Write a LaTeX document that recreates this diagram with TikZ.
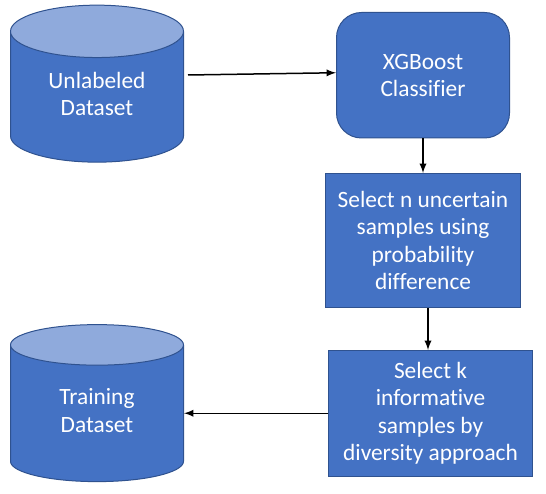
\documentclass[tikz,border=0pt]{standalone}
\usepackage{fontspec}
\setmainfont[Ligatures=NoCommon]{Carlito}
\usetikzlibrary{shapes.geometric}
\definecolor{boxfill}{HTML}{4472C4}
\definecolor{boxtop}{HTML}{8FAADC}
\definecolor{boxline}{HTML}{2F528F}
\tikzset{
  datastore/.style={draw=boxline, line width=0.02cm, cylinder, shape border rotate=90, aspect=0.54,
    cylinder uses custom fill, cylinder body fill=boxfill, cylinder end fill=boxtop,
    minimum width=3.46cm, minimum height=3.14cm, inner sep=0pt, text depth=0.12cm,
    text=white, align=center, font=\fontsize{13.3}{15.6}\selectfont},
  stepbox/.style={draw=boxline, line width=0.02cm, fill=boxfill, inner sep=0pt,
    text=white, align=center, font=\fontsize{13.3}{15.6}\selectfont},
  flowline/.style={-latex, line width=0.03cm, black}
}
\begin{document}
\begin{tikzpicture}
	\useasboundingbox (0,0) rectangle (10.92,-9.88);
	\node[datastore] (unlabeled) at (1.94,-1.94) {Unlabeled\\Dataset}; % Top cylinder
	\node[datastore] (training) at (1.94,-8.27) {Training\\Dataset}; % Bottom cylinder
	\node[stepbox, rounded corners=0.5cm, minimum width=3.46cm, minimum height=2.51cm] (xgboost) at (8.46,-1.505) {XGBoost\\Classifier}; % Classifier
	\node[stepbox, minimum width=3.9cm, minimum height=2.68cm] (uncertain) at (8.46,-4.81) {Select n uncertain\\samples using\\probability\\difference}; % First selection
	\node[stepbox, minimum width=4.08cm, minimum height=2.51cm] (informative) at (8.61,-8.265) {Select k\\informative\\samples by\\diversity approach}; % Second selection
	\coordinate (unlabeledout) at (3.76,-1.5); % Start of first arrow
	\coordinate (selectdown) at (8.56,-7); % Column of third arrow
	\draw[flowline] (unlabeledout) -- ([yshift=0.05cm]xgboost.west);
	\draw[flowline] (xgboost.south) -- (uncertain.north);
	\draw[flowline] (selectdown |- uncertain.south) -- (selectdown |- informative.north);
	\draw[flowline] (informative.west) -- (informative.west -| training.east);
\end{tikzpicture}
\end{document}
